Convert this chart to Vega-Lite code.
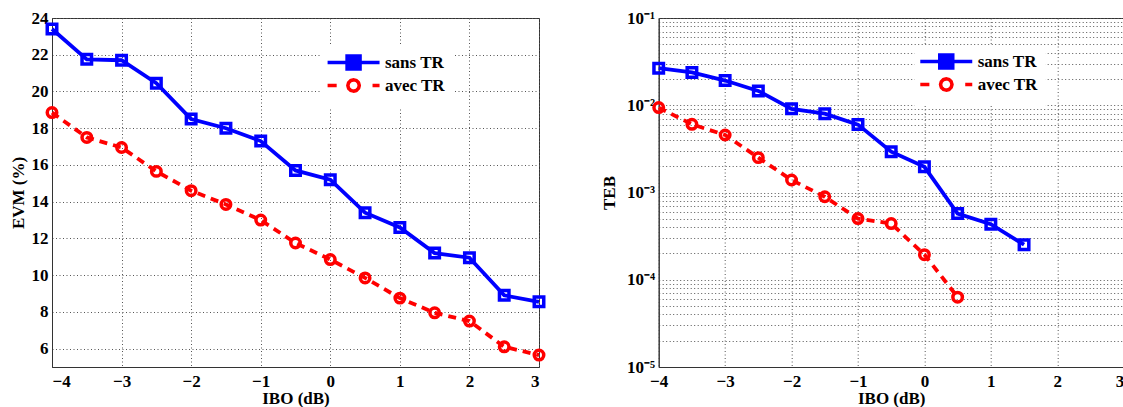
{
  "$schema": "https://vega.github.io/schema/vega-lite/v6.json",
  "background": "white",
  "padding": {"left": 8, "top": 8, "right": 0, "bottom": 0},
  "bounds": "flush",
  "spacing": 119.7,
  "config": {
    "view": {"stroke": "#333333", "strokeWidth": 1},
    "axis": {
      "labelFont": "Liberation Serif", "labelFontWeight": "bold", "labelFontSize": 17, "labelColor": "black",
      "titleFont": "Liberation Serif", "titleFontWeight": "bold", "titleFontSize": 17, "titleColor": "black",
      "domainColor": "#333333", "ticks": false, "labelPadding": 4,
      "grid": true, "gridColor": "#555555", "gridDash": [1, 2.5], "gridWidth": 1, "gridOpacity": 1,
      "labelOverlap": false
    },
    "legend": {
      "orient": "none", "title": null, "fillColor": "white", "padding": 8,
      "labelFont": "Liberation Serif", "labelFontWeight": "bold", "labelFontSize": 17, "labelColor": "black",
      "labelOffset": 38, "symbolSize": 108, "symbolStrokeWidth": 3.5, "rowPadding": -4
    }
  },
  "datasets": {
    "evm": [
      {"ibo": -4, "serie": "sans TR", "val": 23.4},
      {"ibo": -3.5, "serie": "sans TR", "val": 21.75},
      {"ibo": -3, "serie": "sans TR", "val": 21.7},
      {"ibo": -2.5, "serie": "sans TR", "val": 20.45},
      {"ibo": -2, "serie": "sans TR", "val": 18.5},
      {"ibo": -1.5, "serie": "sans TR", "val": 18.0},
      {"ibo": -1, "serie": "sans TR", "val": 17.3},
      {"ibo": -0.5, "serie": "sans TR", "val": 15.7},
      {"ibo": 0, "serie": "sans TR", "val": 15.2},
      {"ibo": 0.5, "serie": "sans TR", "val": 13.4},
      {"ibo": 1, "serie": "sans TR", "val": 12.6},
      {"ibo": 1.5, "serie": "sans TR", "val": 11.2},
      {"ibo": 2, "serie": "sans TR", "val": 10.95},
      {"ibo": 2.5, "serie": "sans TR", "val": 8.9},
      {"ibo": 3, "serie": "sans TR", "val": 8.55},
      {"ibo": -4, "serie": "avec TR", "val": 18.85},
      {"ibo": -3.5, "serie": "avec TR", "val": 17.5},
      {"ibo": -3, "serie": "avec TR", "val": 16.95},
      {"ibo": -2.5, "serie": "avec TR", "val": 15.65},
      {"ibo": -2, "serie": "avec TR", "val": 14.6},
      {"ibo": -1.5, "serie": "avec TR", "val": 13.85},
      {"ibo": -1, "serie": "avec TR", "val": 13.0},
      {"ibo": -0.5, "serie": "avec TR", "val": 11.75},
      {"ibo": 0, "serie": "avec TR", "val": 10.85},
      {"ibo": 0.5, "serie": "avec TR", "val": 9.85},
      {"ibo": 1, "serie": "avec TR", "val": 8.75},
      {"ibo": 1.5, "serie": "avec TR", "val": 7.95},
      {"ibo": 2, "serie": "avec TR", "val": 7.5},
      {"ibo": 2.5, "serie": "avec TR", "val": 6.1},
      {"ibo": 3, "serie": "avec TR", "val": 5.65}
    ],
    "teb": [
      {"ibo": -4, "serie": "sans TR", "val": 0.0266},
      {"ibo": -3.5, "serie": "sans TR", "val": 0.0238},
      {"ibo": -3, "serie": "sans TR", "val": 0.0192},
      {"ibo": -2.5, "serie": "sans TR", "val": 0.0146},
      {"ibo": -2, "serie": "sans TR", "val": 0.0091},
      {"ibo": -1.5, "serie": "sans TR", "val": 0.0080},
      {"ibo": -1, "serie": "sans TR", "val": 0.0060},
      {"ibo": -0.5, "serie": "sans TR", "val": 0.00294},
      {"ibo": 0, "serie": "sans TR", "val": 0.00197},
      {"ibo": 0.5, "serie": "sans TR", "val": 0.000574},
      {"ibo": 1, "serie": "sans TR", "val": 0.000433},
      {"ibo": 1.5, "serie": "sans TR", "val": 0.000252},
      {"ibo": -4, "serie": "avec TR", "val": 0.0094},
      {"ibo": -3.5, "serie": "avec TR", "val": 0.00605},
      {"ibo": -3, "serie": "avec TR", "val": 0.00456},
      {"ibo": -2.5, "serie": "avec TR", "val": 0.00251},
      {"ibo": -2, "serie": "avec TR", "val": 0.00139},
      {"ibo": -1.5, "serie": "avec TR", "val": 0.000894},
      {"ibo": -1, "serie": "avec TR", "val": 0.000502},
      {"ibo": -0.5, "serie": "avec TR", "val": 0.00044},
      {"ibo": 0, "serie": "avec TR", "val": 0.000194},
      {"ibo": 0.5, "serie": "avec TR", "val": 0.0000632}
    ]
  },
  "hconcat": [
    {
      "width": 487,
      "height": 349,
      "data": {"name": "evm"},
      "encoding": {
        "x": {"field": "ibo", "type": "quantitative", "scale": {"domain": [-4, 3], "nice": false, "zero": false},
              "axis": {"values": [-4, -3, -2, -1, 0, 1, 2, 3], "title": "IBO (dB)", "labelPadding": 6, "titlePadding": 1}},
        "y": {"field": "val", "type": "quantitative", "scale": {"domain": [5, 24], "nice": false, "zero": false},
              "axis": {"values": [6, 8, 10, 12, 14, 16, 18, 20, 22, 24], "title": "EVM (%)", "titlePadding": 4}},
        "color": {"field": "serie", "type": "nominal",
                  "scale": {"domain": ["sans TR", "avec TR"], "range": ["#0000ff", "#ff0000"]},
                  "legend": {"legendX": 270, "legendY": 28,
                    "encode": {"symbols": {"update": {
                      "shape": {"signal": "datum.value === 'sans TR' ? 'M-2.1,0L7.9,0M1.65,-1.25L4.15,-1.25L4.15,1.25L1.65,1.25Z' : 'M-2.1,0L-0.35,0M4,0L3.85,0.55L3.45,0.95L2.9,1.1L2.35,0.95L1.95,0.55L1.8,0L1.95,-0.55L2.35,-0.95L2.9,-1.1L3.45,-0.95L3.85,-0.55ZM6.55,0L7.9,0'"},
                      "fill": {"signal": "datum.value === 'sans TR' ? '#0000ff' : '#ffffff'"},
                      "stroke": {"signal": "datum.value === 'sans TR' ? '#0000ff' : '#ff0000'"},
                      "fillOpacity": {"value": 1},
                      "strokeOpacity": {"value": 1},
                      "opacity": {"value": 1},
                      "strokeDash": {"value": [1, 0]},
                      "strokeWidth": {"value": 3.5},
                      "size": {"value": 108}
                    }}}}}
      },
      "layer": [
        {"transform": [{"filter": "datum.serie === 'sans TR'"}],
         "mark": {"type": "line", "strokeWidth": 3.8}},
        {"transform": [{"filter": "datum.serie === 'avec TR'"}],
         "mark": {"type": "line", "strokeWidth": 3.8, "strokeDash": [8, 6]}},
        {"transform": [{"filter": "datum.serie === 'sans TR'"}],
         "mark": {"type": "point", "shape": "square", "filled": false, "strokeWidth": 3.5, "size": 90, "opacity": 1}},
        {"transform": [{"filter": "datum.serie === 'avec TR'"}],
         "mark": {"type": "point", "shape": "circle", "filled": false, "strokeWidth": 3.5, "size": 90, "opacity": 1}}
      ]
    },
    {
      "width": 465,
      "height": 349,
      "data": {"name": "teb"},
      "encoding": {
        "x": {"field": "ibo", "type": "quantitative", "scale": {"domain": [-4, 3], "nice": false, "zero": false},
              "axis": {"values": [-4, -3, -2, -1, 0, 1, 2, 3], "title": "IBO (dB)", "labelPadding": 6, "titlePadding": 1,
                       "labelAlign": {"condition": {"test": "datum.value == 3", "value": "right"}, "value": "center"}}},
        "y": {"field": "val", "type": "quantitative", "scale": {"type": "log", "domain": [0.00001, 0.1], "nice": false},
              "axis": {"values": [0.00001, 0.00002, 0.00003, 0.00004, 0.00005, 0.00006, 0.00007, 0.00008, 0.00009,
                                  0.0001, 0.0002, 0.0003, 0.0004, 0.0005, 0.0006, 0.0007, 0.0008, 0.0009,
                                  0.001, 0.002, 0.003, 0.004, 0.005, 0.006, 0.007, 0.008, 0.009,
                                  0.01, 0.02, 0.03, 0.04, 0.05, 0.06, 0.07, 0.08, 0.09, 0.1],
                       "labelExpr": "datum.value == 0.1 ? '10⁻¹' : datum.value == 0.01 ? '10⁻²' : datum.value == 0.001 ? '10⁻³' : datum.value == 0.0001 ? '10⁻⁴' : datum.value == 0.00001 ? '10⁻⁵' : ''",
                       "title": "TEB", "titlePadding": 8}},
        "color": {"field": "serie", "type": "nominal",
                  "scale": {"domain": ["sans TR", "avec TR"], "range": ["#0000ff", "#ff0000"]},
                  "legend": {"legendX": 256, "legendY": 27,
                    "encode": {"symbols": {"update": {
                      "shape": {"signal": "datum.value === 'sans TR' ? 'M-2.1,0L7.9,0M1.65,-1.25L4.15,-1.25L4.15,1.25L1.65,1.25Z' : 'M-2.1,0L-0.35,0M4,0L3.85,0.55L3.45,0.95L2.9,1.1L2.35,0.95L1.95,0.55L1.8,0L1.95,-0.55L2.35,-0.95L2.9,-1.1L3.45,-0.95L3.85,-0.55ZM6.55,0L7.9,0'"},
                      "fill": {"signal": "datum.value === 'sans TR' ? '#0000ff' : '#ffffff'"},
                      "stroke": {"signal": "datum.value === 'sans TR' ? '#0000ff' : '#ff0000'"},
                      "fillOpacity": {"value": 1},
                      "strokeOpacity": {"value": 1},
                      "opacity": {"value": 1},
                      "strokeDash": {"value": [1, 0]},
                      "strokeWidth": {"value": 3.5},
                      "size": {"value": 108}
                    }}}}}
      },
      "layer": [
        {"transform": [{"filter": "datum.serie === 'sans TR'"}],
         "mark": {"type": "line", "strokeWidth": 3.8}},
        {"transform": [{"filter": "datum.serie === 'avec TR'"}],
         "mark": {"type": "line", "strokeWidth": 3.8, "strokeDash": [8, 6]}},
        {"transform": [{"filter": "datum.serie === 'sans TR'"}],
         "mark": {"type": "point", "shape": "square", "filled": false, "strokeWidth": 3.5, "size": 90, "opacity": 1}},
        {"transform": [{"filter": "datum.serie === 'avec TR'"}],
         "mark": {"type": "point", "shape": "circle", "filled": false, "strokeWidth": 3.5, "size": 90, "opacity": 1}}
      ]
    }
  ],
  "resolve": {
    "scale": {"color": "independent", "y": "independent", "x": "independent"},
    "legend": {"color": "independent"}
  }
}
